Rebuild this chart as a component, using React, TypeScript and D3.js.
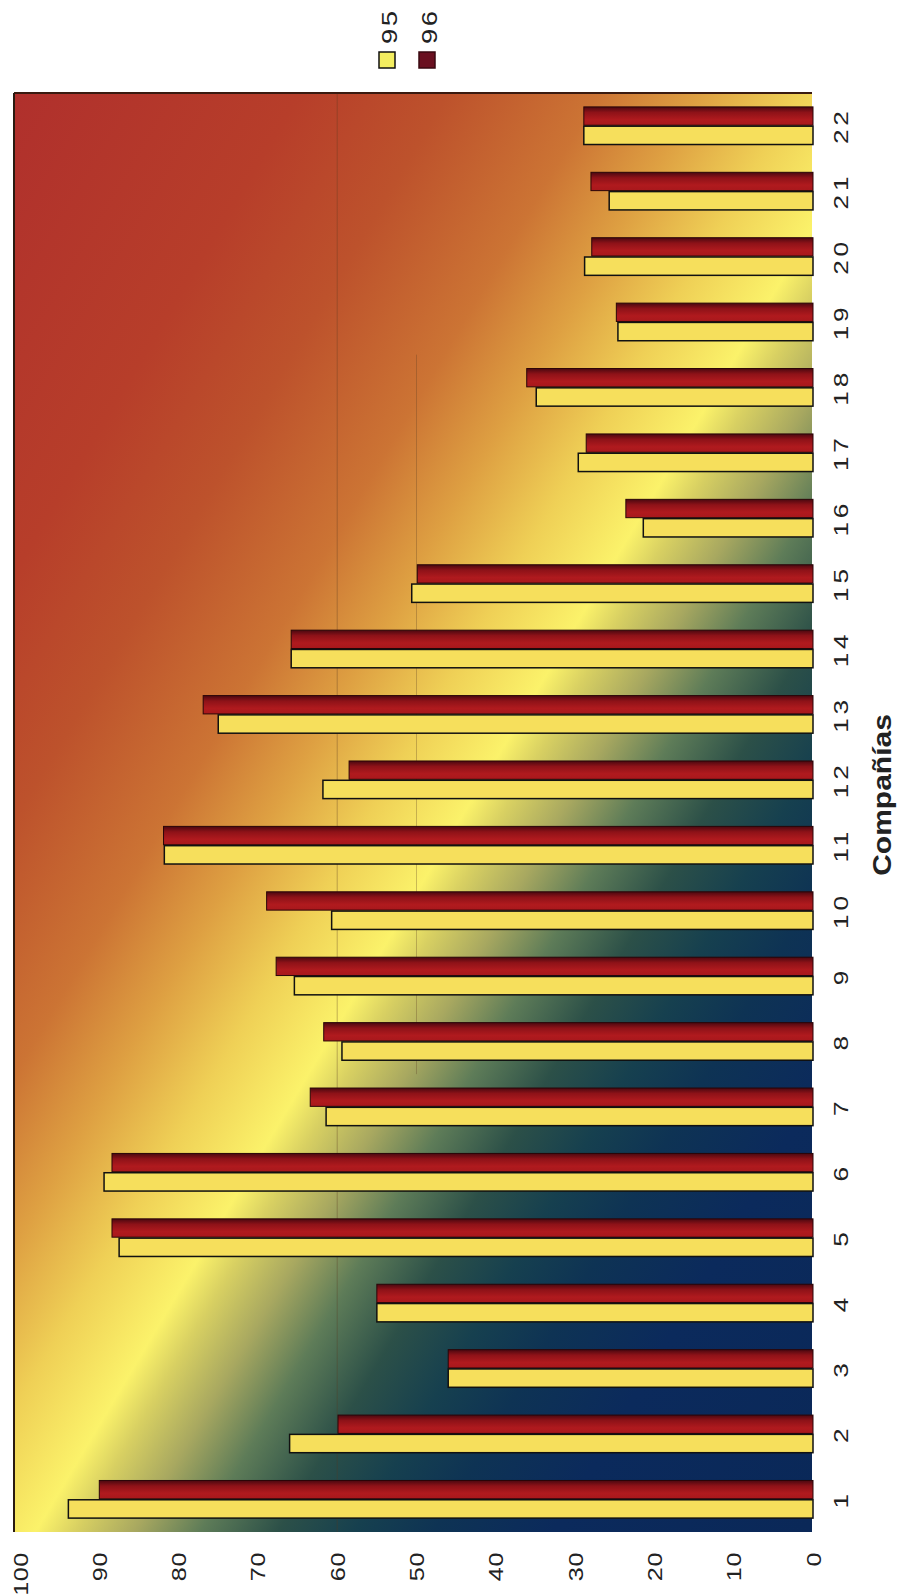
import React from "react";
import * as d3 from "d3";

const categories = ["1","2","3","4","5","6","7","8","9","10","11","12","13","14","15","16","17","18","19","20","21","22"];
const values95 = [93.9,66.0,46.0,55.0,87.5,89.4,61.4,59.4,65.4,60.7,81.8,61.8,75.0,65.8,50.6,21.4,29.6,34.9,24.6,28.8,25.7,28.9];
const values96 = [90.0,59.9,46.0,55.0,88.4,88.4,63.4,61.7,67.7,68.9,81.9,58.5,76.9,65.8,49.9,23.6,28.6,36.1,24.8,27.9,28.0,28.9];
const seriesNames = ["95", "96"];
const valueTicks = [0,10,20,30,40,50,60,70,80,90,100];
const axisTitle = "Compañías";

const W = 899, H = 1596;
const plot = { left: 14, right: 812, top: 93, bottom: 1532 };

export default function App() {
  const x = d3.scaleLinear().domain([0, 100]).range([813, 20]);
  const y = d3.scaleBand<string>().domain(categories).range([plot.bottom, plot.top]).padding(0);
  const sub = d3.scaleBand<string>().domain(["96", "95"]).range([0, y.step()]).paddingInner(0.05).paddingOuter(0.72);

  // background gradient geometry (diagonal: red top-left -> yellow ridge -> navy bottom-right)
  const n = [0.859, 0.512];
  const gx1 = 20, gy1 = 93;
  const len = 1415;
  const gx2 = gx1 + n[0] * len, gy2 = gy1 + n[1] * len;
  const stops: [number, string][] = [
    [0, "#b0302c"], [0.17, "#b73e2a"], [0.26, "#bd522c"], [0.352, "#cc7434"], [0.413, "#dea042"],
    [0.473, "#efd056"], [0.53, "#fbf26a"], [0.554, "#d8d062"], [0.59, "#a8a860"], [0.63, "#5e7c58"],
    [0.677, "#2c5048"], [0.724, "#16404f"], [0.772, "#0e3354"], [0.844, "#0b2a5c"], [1, "#0a2858"],
  ];
  const font = "'Liberation Sans', Arial, Helvetica, sans-serif";

  return (
    <div style={{ position: "absolute", left: 0, top: 0 }}>
      <svg width={W} height={H} style={{ display: "block", background: "#fff" }}>
        <defs>
          <linearGradient id="bg" gradientUnits="userSpaceOnUse" x1={gx1} y1={gy1} x2={gx2} y2={gy2}>
            {stops.map(([o, c], i) => <stop key={i} offset={o} stopColor={c} />)}
          </linearGradient>
          <linearGradient id="redbar" x1="0" y1="0" x2="0" y2="1">
            <stop offset="0" stopColor="#4a0810" />
            <stop offset="0.3" stopColor="#8e1218" />
            <stop offset="0.7" stopColor="#b01a1e" />
            <stop offset="1" stopColor="#a8181c" />
          </linearGradient>
        </defs>
        <rect x={plot.left} y={plot.top} width={plot.right - plot.left} height={plot.bottom - plot.top} fill="url(#bg)" />
        {/* faint gridlines */}
        <line x1={x(60)} x2={x(60)} y1={plot.top} y2={plot.bottom} stroke="#5a3a20" strokeOpacity={0.35} strokeWidth={1} />
        <line x1={x(50)} x2={x(50)} y1={(y("18") as number)} y2={(y("7") as number)} stroke="#5a3a20" strokeOpacity={0.3} strokeWidth={1} />
        {/* plot border */}
        <line x1={plot.left} x2={plot.right} y1={plot.top} y2={plot.top} stroke="#3a1a10" strokeWidth={2} />
        <line x1={plot.left} x2={plot.left} y1={plot.top} y2={plot.bottom} stroke="#2a1a10" strokeWidth={2} />
        {/* bars */}
        {categories.map((c, i) => {
          const y0 = y(c) as number;
          const yr = y0 + (sub("96") as number);
          const yy = y0 + (sub("95") as number);
          const bw = sub.bandwidth();
          return (
            <g key={c}>
              <rect x={x(values96[i])} y={yr} width={x(0) - x(values96[i])} height={bw} fill="url(#redbar)" stroke="#2a0508" strokeWidth={1} />
              <rect x={x(values95[i])} y={yy} width={x(0) - x(values95[i])} height={bw} fill="#f6df5c" stroke="#111" strokeWidth={1.5} />
            </g>
          );
        })}
        {/* category labels */}
        {categories.map((c) => {
          const yc = (y(c) as number) + y.step() / 2;
          return (
            <text key={c} transform={`translate(848,${yc}) rotate(-90) scale(1.25,1)`} textAnchor="middle"
              fontFamily={font} fontSize={21} fill="#222" letterSpacing={3}>{c}</text>
          );
        })}
        {/* value labels */}
        {valueTicks.map((v) => (
          <text key={v} transform={`translate(${x(v) + 7.5},1552) rotate(-90) scale(1.2,1)`} textAnchor="end"
            fontFamily={font} fontSize={21} fill="#222" letterSpacing={0.5}>{v}</text>
        ))}
        {/* axis title */}
        <text transform={`translate(891,795) rotate(-90) scale(1.2,1)`} textAnchor="middle" fontFamily={font}
          fontSize={25} fontWeight="bold" fill="#222">{axisTitle}</text>
        {/* legend */}
        {seriesNames.map((s, i) => {
          const lx = 379 + i * 40;
          return (
            <g key={s}>
              <text transform={`translate(${lx + 18},44) rotate(-90) scale(1.25,1)`} textAnchor="start"
                fontFamily={font} fontSize={22} fill="#222" letterSpacing={2}>{s}</text>
              <rect x={lx} y={52} width={16} height={16} fill={i === 0 ? "#f4ee60" : "#6a1020"} stroke={i === 0 ? "#111" : "#3a0810"} strokeWidth={1.5} />
            </g>
          );
        })}
      </svg>
    </div>
  );
}
